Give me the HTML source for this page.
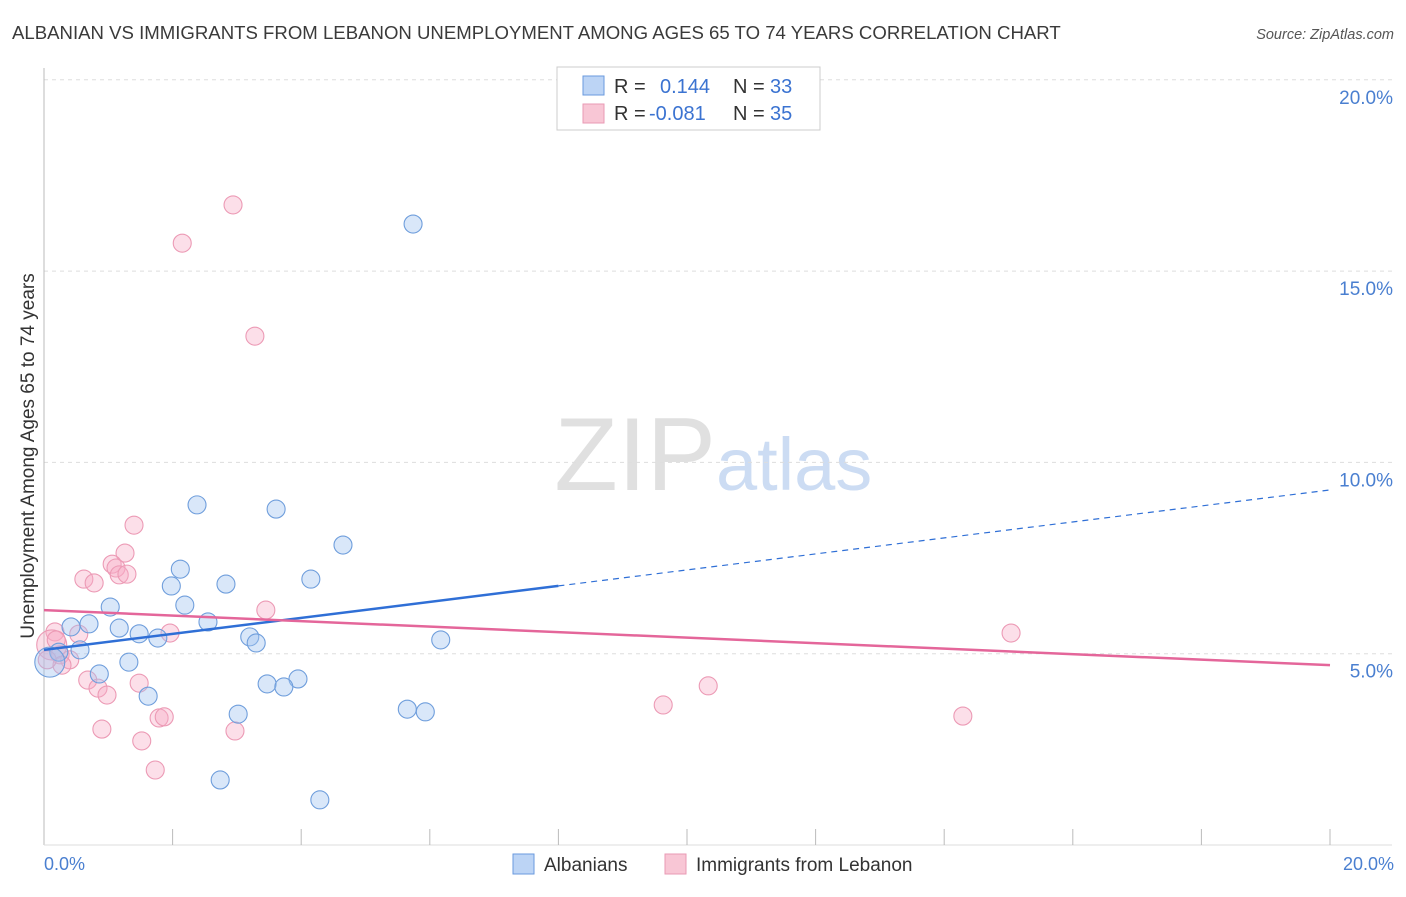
<!DOCTYPE html>
<html><head><meta charset="utf-8"><style>
body{margin:0;background:#fff;font-family:"Liberation Sans",sans-serif}
svg text{font-family:"Liberation Sans",sans-serif}
</style></head><body>
<svg id="c" width="1406" height="892" xmlns="http://www.w3.org/2000/svg">
<text x="12" y="39" font-size="18.6" fill="#3a3a3a">ALBANIAN VS IMMIGRANTS FROM LEBANON UNEMPLOYMENT AMONG AGES 65 TO 74 YEARS CORRELATION CHART</text>
<text x="1394" y="39" font-size="14.5" fill="#555" font-style="italic" text-anchor="end">Source: ZipAtlas.com</text>
<text x="716" y="490" font-size="104" font-family="Liberation Serif,serif" fill="#e0e0e0" text-anchor="end">ZIP</text>
<text x="716" y="490" font-size="74" fill="#ccdcf3">atlas</text>
<g id="grid"></g>
<line x1="44" y1="68" x2="44" y2="845" stroke="#bbb"/>
<line x1="44" y1="845" x2="1392" y2="845" stroke="#ddd"/>
<g id="ticks"></g>
<g id="pts"></g>
<g id="lines"></g>
<text transform="translate(34,456) rotate(-90)" font-size="19" fill="#333" text-anchor="middle">Unemployment Among Ages 65 to 74 years</text>
<text x="44" y="870" font-size="18" fill="#4a7fd0">0.0%</text>
<text x="1394" y="870" font-size="18" fill="#4a7fd0" text-anchor="end">20.0%</text>
<g>
<rect x="557" y="67" width="263" height="63" fill="#fff" stroke="#ccc"/>
<rect x="583" y="76" width="21" height="19" fill="#bcd4f5" stroke="#6a9ade"/>
<rect x="583" y="104" width="21" height="19" fill="#f8c6d5" stroke="#e99ab4"/>
<text x="614" y="93" font-size="20" fill="#333">R = </text><text x="660" y="93" font-size="20" fill="#3b73d1">0.144</text>
<text x="733" y="93" font-size="20" fill="#333">N = </text><text x="770" y="93" font-size="20" fill="#3b73d1">33</text>
<text x="614" y="120" font-size="20" fill="#333">R = </text><text x="649" y="120" font-size="20" fill="#3b73d1">-0.081</text>
<text x="733" y="120" font-size="20" fill="#333">N = </text><text x="770" y="120" font-size="20" fill="#3b73d1">35</text>
</g>
<g>
<rect x="513" y="854" width="21" height="20" fill="#bcd4f5" stroke="#6a9ade"/>
<text x="544" y="871" font-size="19" fill="#333">Albanians</text>
<rect x="665" y="854" width="21" height="20" fill="#f8c6d5" stroke="#e99ab4"/>
<text x="696" y="871" font-size="19" fill="#333">Immigrants from Lebanon</text>
</g>
</svg>
<script>
const yTicks=[5,10,15,20];
const yTickLabels=["5.0%","10.0%","15.0%","20.0%"];
const xTicks=[2,4,6,8,10,12,14,16,18,20];
const blueX=[5.74,2.38,3.61,4.65,2.12,2.83,1.98,4.15,1.03,2.19,2.55,0.70,0.42,1.17,1.48,1.77,3.20,3.30,6.17,0.56,0.23,0.09,1.32,0.86,3.95,3.47,3.73,1.62,5.65,5.93,3.02,2.74,4.29];
const blueY=[16.23,8.89,8.78,7.84,7.21,6.82,6.77,6.95,6.22,6.27,5.83,5.78,5.70,5.67,5.52,5.41,5.44,5.28,5.36,5.10,5.04,4.78,4.78,4.47,4.34,4.21,4.13,3.89,3.55,3.48,3.42,1.70,1.18];
const pinkX=[2.94,2.15,3.28,1.40,1.26,1.06,1.12,0.62,0.78,1.17,1.29,3.45,15.04,0.54,1.96,0.17,0.12,0.25,0.40,0.28,0.68,0.84,0.98,1.48,0.90,1.52,1.79,1.87,2.97,1.73,9.63,10.33,14.29,0.19,0.05];
const pinkY=[16.73,15.73,13.30,8.36,7.63,7.34,7.24,6.95,6.85,7.06,7.08,6.14,5.54,5.51,5.54,5.57,5.23,4.97,4.84,4.70,4.31,4.10,3.92,4.23,3.03,2.72,3.32,3.35,2.98,1.96,3.66,4.16,3.37,5.36,4.84];
const blueTrend=[5.10,9.28];
const pinkTrend=[6.14,4.70];
const blueSolidEnd=8.0;
const NS="http://www.w3.org/2000/svg";
const X=v=>44+v*64.3, Y=v=>845-v*38.26;
function mk(t,a,p){const e=document.createElementNS(NS,t);for(const k in a)e.setAttribute(k,a[k]);p.appendChild(e);return e;}
const grid=document.getElementById('grid');
yTicks.forEach((t,i)=>{
 const l=mk('line',{x1:44,x2:1392,y1:Y(t),y2:Y(t),stroke:'#ddd','stroke-dasharray':'4,4'},grid);
 
 
 const tx=mk('text',{x:1393,y:Y(t)+24,'font-size':19,fill:'#4a7fd0','text-anchor':'end'},grid);
 tx.textContent=yTickLabels[i];
 
 
});
const tk=document.getElementById('ticks');
xTicks.forEach(t=>{
 const l=mk('line',{x1:X(t),x2:X(t),y1:829,y2:845,stroke:'#bbb'},tk);
 
 
});
const pts=document.getElementById('pts');
function dots(xs,ys,fill,stroke,name,bigX){
 xs.forEach((x,i)=>{
  const big=(x===bigX);
  const c=mk('circle',{cx:X(x),cy:Y(ys[i]),r:big?15:9,fill:fill,stroke:stroke,'stroke-width':1.1},pts);
  
  
 });
}
dots(pinkX,pinkY,'rgba(246,172,196,0.38)','#ec9ab5','lebanon-point',0.12);
dots(blueX,blueY,'rgba(160,194,240,0.4)','#6f9edc','albanian-point',0.09);
const ln=document.getElementById('lines');
const by=x=>blueTrend[0]+(blueTrend[1]-blueTrend[0])*x/20;
let l1=mk('line',{x1:X(0),y1:Y(by(0)),x2:X(blueSolidEnd),y2:Y(by(blueSolidEnd)),stroke:'#2f6fd6','stroke-width':2.5},ln);


let l2=mk('line',{x1:X(blueSolidEnd),y1:Y(by(blueSolidEnd)),x2:X(20),y2:Y(by(20)),stroke:'#2f6fd6','stroke-width':1.2,'stroke-dasharray':'6,5'},ln);


let l3=mk('line',{x1:X(0),y1:Y(pinkTrend[0]),x2:X(20),y2:Y(pinkTrend[1]),stroke:'#e4669a','stroke-width':2.5},ln);


</script>
</body></html>
